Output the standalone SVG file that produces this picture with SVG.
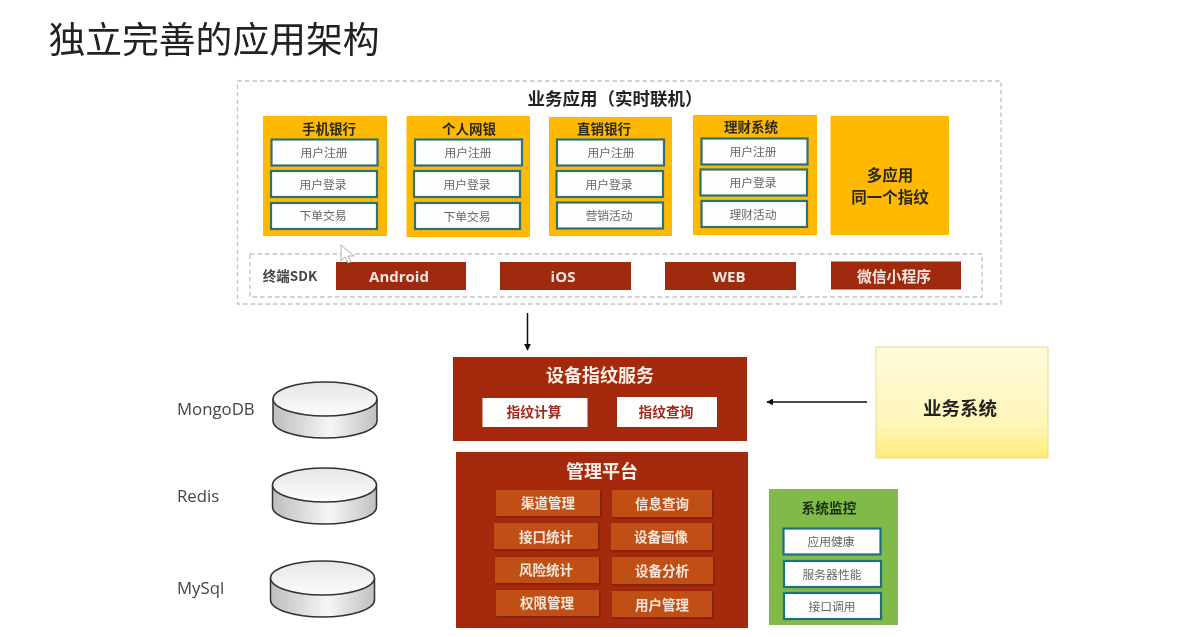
<svg xmlns="http://www.w3.org/2000/svg" width="1188" height="637" viewBox="0 0 1188 637">
<style>
text{font-family:"Noto Sans CJK SC","Liberation Sans",sans-serif;text-anchor:middle}
.dash{fill:none;stroke:#bcc3cb;stroke-width:1.3;stroke-dasharray:4.500 3}
.card{fill:#ffb900}
.item{fill:#fdffff;stroke:#2f6f73;stroke-width:2.200}
.ctitle{font-size:13.500px;font-weight:700;fill:#2a2a1e}
.it{font-size:11.800px;fill:#666}
.sdk{fill:#a02a08}
.sdkt{font-family:"Open Sans","Liberation Sans",sans-serif;font-size:15px;font-weight:700;fill:#f2e6e0}
.sdkc{font-size:14.800px;font-weight:700;fill:#f2e6e0}
.red{fill:#a52a0a}
.sub{fill:#c04f15;filter:url(#sh)}
.subt{font-size:13.500px;font-weight:700;fill:#f5e6dc}
.wht{fill:#fff}
.whtt{font-size:13.700px;font-weight:700;fill:#a52a1a}
.head{font-size:18px;font-weight:700;fill:#fbeee6}
.lbl{font-family:"Open Sans","Liberation Sans",sans-serif;font-size:16.800px;fill:#444;text-anchor:start}
.con{stroke:#111;stroke-width:1.500;fill:none;marker-end:url(#ah)}
.cy{stroke:#333;stroke-width:1.500}
</style>
<defs>
<marker id="ah" viewBox="0 0 10 10" refX="9" refY="5" markerWidth="7" markerHeight="7" markerUnits="userSpaceOnUse" orient="auto"><path d="M0 0L10 5L0 10z" fill="#111"/></marker>
<filter id="sh" x="-5%" y="-10%" width="112%" height="125%"><feDropShadow dx="1" dy="1" stdDeviation="1" flood-color="#5a1400" flood-opacity=".7"/></filter>
<filter id="soft" x="0" y="0" width="100%" height="100%"><feGaussianBlur stdDeviation=".45"/></filter>
<linearGradient id="yel" x1="0" y1="0" x2="0" y2="1"><stop offset="0" stop-color="#fffbdc"/><stop offset=".7" stop-color="#fff6b8"/><stop offset="1" stop-color="#ffeb78"/></linearGradient>
<linearGradient id="cyl" x1="0" y1="0" x2="1" y2="0"><stop offset="0" stop-color="#bdbdbd"/><stop offset=".55" stop-color="#f6f6f6"/><stop offset="1" stop-color="#c0c0c0"/></linearGradient>
<linearGradient id="cyt" x1="0" y1="0" x2="0" y2="1"><stop offset="0" stop-color="#e6e6e6"/><stop offset="1" stop-color="#fcfcfc"/></linearGradient>
<g id="disk"><path class="cy" d="M0 17V39A52 17 0 0 0 104 39V17" fill="url(#cyl)"/><ellipse class="cy" cx="52" cy="17" rx="52" ry="17" fill="url(#cyt)"/></g>
</defs>
<g id="page" filter="url(#soft)">
<rect width="1188" height="637" fill="#fff"/>
<text id="title" x="214" y="53" style="font-size:36.800px;font-weight:400;fill:#222">独立完善的应用架构</text>

<g id="biz-app">
<rect class="dash" x="237.500" y="81" width="763.500" height="223"/>
<text x="615" y="105" style="font-size:17.500px;font-weight:700;fill:#222">业务应用（实时联机）</text>
</g>

<g id="card-mobile">
<rect class="card" x="263" y="116" width="124" height="120"/>
<text class="ctitle" x="329" y="134">手机银行</text>
<rect class="item" x="271.500" y="139.500" width="106" height="26"/><text class="it" x="324" y="157">用户注册</text>
<rect class="item" x="271" y="171" width="106" height="26"/><text class="it" x="323" y="188.500">用户登录</text>
<rect class="item" x="271" y="203" width="106" height="26"/><text class="it" x="323" y="220">下单交易</text>
</g>
<g id="card-web">
<rect class="card" x="406.500" y="116" width="123.500" height="121"/>
<text class="ctitle" x="469" y="134">个人网银</text>
<rect class="item" x="415" y="139.500" width="107" height="26"/><text class="it" x="468" y="157">用户注册</text>
<rect class="item" x="414" y="171" width="106" height="26"/><text class="it" x="467" y="188.500">用户登录</text>
<rect class="item" x="415" y="203" width="105" height="26"/><text class="it" x="467" y="220.500">下单交易</text>
</g>
<g id="card-direct">
<rect class="card" x="549" y="117" width="123" height="119"/>
<text class="ctitle" x="604" y="134">直销银行</text>
<rect class="item" x="557" y="139.500" width="107" height="26"/><text class="it" x="611" y="157">用户注册</text>
<rect class="item" x="556.500" y="171" width="106.500" height="26"/><text class="it" x="609" y="188.500">用户登录</text>
<rect class="item" x="557" y="202.500" width="106" height="26"/><text class="it" x="609" y="220">营销活动</text>
</g>
<g id="card-finance">
<rect class="card" x="693" y="115" width="124" height="120"/>
<text class="ctitle" x="751" y="132">理财系统</text>
<rect class="item" x="701.500" y="138.500" width="106" height="26"/><text class="it" x="753" y="155.500">用户注册</text>
<rect class="item" x="700.500" y="169.500" width="106.500" height="26"/><text class="it" x="753" y="186.500">用户登录</text>
<rect class="item" x="701.500" y="201" width="105.500" height="26"/><text class="it" x="753" y="218.500">理财活动</text>
</g>
<g id="card-multi">
<rect class="card" x="830.500" y="116" width="118.500" height="119"/>
<text x="890" y="180.500" style="font-size:15.500px;font-weight:700;fill:#2a2a1e">多应用</text>
<text x="890" y="203" style="font-size:15.500px;font-weight:700;fill:#2a2a1e">同一个指纹</text>
</g>

<g id="sdk">
<rect class="dash" x="250" y="254" width="732" height="43"/>
<text x="290" y="281" style="font-size:13.500px;font-weight:700;fill:#444">终端SDK</text>
</g>
<g id="sdk-android"><rect class="sdk" x="336" y="262" width="130" height="28"/><text class="sdkt" x="399" y="282">Android</text></g>
<g id="sdk-ios"><rect class="sdk" x="500" y="262" width="131" height="28"/><text class="sdkt" x="563" y="282">iOS</text></g>
<g id="sdk-web"><rect class="sdk" x="665" y="262" width="131" height="28"/><text class="sdkt" x="729" y="282">WEB</text></g>
<g id="sdk-wechat"><rect class="sdk" x="831" y="261.500" width="130" height="28"/><text class="sdkc" x="894" y="281.500">微信小程序</text></g>

<path id="cursor" d="M341 245V261L345 257L348 263L351 262L348 256L354 256Z" fill="#fff" stroke="#9a9a9a" stroke-width=".8"/>

<g id="connectors">
<path class="con" d="M527.500 313V350"/>
<path class="con" d="M867 402H767"/>
</g>

<g id="fingerprint">
<rect class="red" x="453" y="357" width="294" height="84"/>
<text class="head" x="600" y="381.500">设备指纹服务</text>
<rect class="wht" x="482.500" y="398" width="105" height="29"/><text class="whtt" x="534" y="417">指纹计算</text>
<rect class="wht" x="617" y="397" width="100" height="30"/><text class="whtt" x="666" y="417">指纹查询</text>
</g>

<g id="mgmt">
<rect class="red" x="456" y="452" width="292" height="176"/>
<text class="head" x="602" y="478">管理平台</text>
<rect class="sub" x="496" y="490" width="104" height="26"/><text class="subt" x="548" y="508">渠道管理</text>
<rect class="sub" x="612" y="490" width="100" height="27"/><text class="subt" x="662" y="509">信息查询</text>
<rect class="sub" x="494" y="523" width="104" height="26"/><text class="subt" x="546" y="542">接口统计</text>
<rect class="sub" x="611" y="523" width="101" height="27"/><text class="subt" x="661" y="542">设备画像</text>
<rect class="sub" x="495" y="557" width="104" height="26"/><text class="subt" x="546" y="575">风险统计</text>
<rect class="sub" x="612" y="557" width="101" height="27"/><text class="subt" x="662" y="576">设备分析</text>
<rect class="sub" x="496" y="590" width="103" height="26"/><text class="subt" x="547" y="608">权限管理</text>
<rect class="sub" x="612" y="591" width="100" height="26"/><text class="subt" x="662" y="610">用户管理</text>
</g>

<g id="biz-system">
<rect x="876" y="347" width="172" height="111" fill="url(#yel)" stroke="#e6dc90" stroke-width="1"/>
<text x="960" y="415" style="font-size:18.500px;font-weight:700;fill:#222">业务系统</text>
</g>

<g id="monitor">
<rect x="769" y="489" width="129" height="136" fill="#80bb4a"/>
<text x="829" y="513" style="font-size:13.700px;font-weight:700;fill:#1d2e12">系统监控</text>
<rect x="783.500" y="528.500" width="97" height="26" fill="#fff" stroke="#1f6f80" stroke-width="2.200"/><text class="it" x="831" y="545.500">应用健康</text>
<rect x="784" y="561" width="97" height="26" fill="#fff" stroke="#1f6f80" stroke-width="2.200"/><text class="it" x="832" y="578.500">服务器性能</text>
<rect x="784" y="593" width="97" height="26" fill="#fff" stroke="#1f6f80" stroke-width="2.200"/><text class="it" x="832" y="610.500">接口调用</text>
</g>

<g id="db-mongo"><use href="#disk" x="273" y="382"/><text class="lbl" x="177" y="415">MongoDB</text></g>
<g id="db-redis"><use href="#disk" x="272.500" y="468"/><text class="lbl" x="177" y="502">Redis</text></g>
<g id="db-mysql"><use href="#disk" x="270.500" y="561"/><text class="lbl" x="177" y="594">MySql</text></g>
</g>
</svg>
